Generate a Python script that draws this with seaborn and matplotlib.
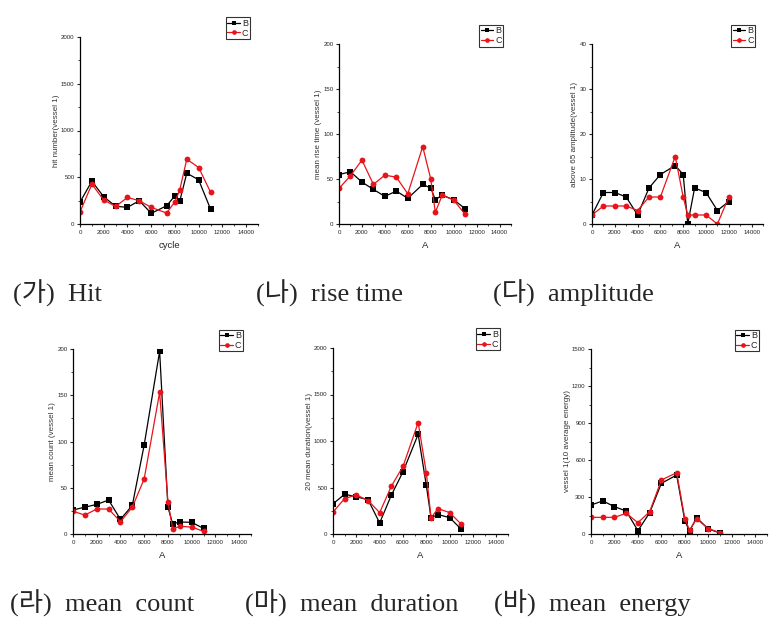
import numpy as np
import pandas as pd
import matplotlib
matplotlib.use("Agg")
import matplotlib.pyplot as plt
import seaborn as sns
from matplotlib.ticker import MultipleLocator

# ---------------- data ----------------
x_common = [0, 1000, 2000, 3000, 4000, 5000, 6000, 7300, 8000, 8400, 9000, 10000, 11000]
x_amp = [0, 1000, 2000, 3000, 4000, 5000, 6000, 7300, 8000, 8400, 9000, 10000, 11000, 12000]

hit_B = [234, 458, 291, 190, 178, 249, 114, 195, 302, 242, 544, 472, 160]
hit_C = [128, 426, 256, 188, 284, 249, 178, 117, 238, 362, 693, 604, 341]

rise_B = [55, 58, 46.6, 38.4, 30.7, 36.6, 28.5, 44, 40, 27, 32, 27, 17]
rise_C = [39.5, 53.6, 71, 44, 54.3, 52, 33.6, 86, 50, 13, 32, 26.6, 10.7]

amp_B = [2, 7, 7, 6, 2, 8, 11, 13, 11, 0, 8, 7, 3, 5]
amp_C = [2, 4, 4, 4, 3, 6, 6, 15, 6, 2, 2, 2, 0, 6]

count_B = [26, 29, 32, 36.7, 15.8, 31, 96.4, 197.5, 29, 11, 13, 12.6, 6]
count_C = [24.5, 20.5, 27, 27, 13.3, 29, 59.7, 153, 35, 5.4, 8.3, 7.5, 2.9]

dur_B = [324, 428, 399, 370, 119, 417, 669, 1072, 522, 176, 209, 176, 50]
dur_C = [237, 381, 421, 360, 230, 514, 727, 1198, 658, 173, 273, 230, 104]

energy_B = [235, 268, 222, 186, 27, 173, 411, 478, 105, 24, 132, 41, 8]
energy_C = [135, 135, 135, 168, 92, 181, 438, 497, 124, 30, 124, 43, 11]

series_names = ["B", "C"]
xlabels = ["cycle", "A", "A", "A", "A", "A"]
ylabels = ["hit number(vessel 1)", "mean rise time (vessel 1)", "above 65 amplitude(vessel 1)",
           "mean count (vessel 1)", "20 mean duration(vessel 1)", "vessel 1(10 average energy)"]
captions = ["(가)  Hit", "(나)  rise time", "(다)  amplitude",
            "(라)  mean  count", "(마)  mean  duration", "(바)  mean  energy"]
ymax = [2000, 200, 40, 200, 2000, 1500]
ymajor = [500, 50, 10, 50, 500, 300]

panels = [
    (x_common, hit_B, hit_C),
    (x_common, rise_B, rise_C),
    (x_amp, amp_B, amp_C),
    (x_common, count_B, count_C),
    (x_common, dur_B, dur_C),
    (x_common, energy_B, energy_C),
]

# axes rectangles in pixels: left, right, top, bottom
rects_px = [
    (80, 258, 37, 224),
    (339, 511, 44, 224),
    (592, 763, 44, 224),
    (73, 251, 349, 534),
    (333, 508, 348, 534),
    (591, 767, 349, 534),
]
caption_px = [(13, 302), (256, 302), (493, 302), (10, 612), (245, 612), (494, 612)]

W, H = 784, 620
sns.set_style("white")
plt.rcParams["font.family"] = ["Liberation Sans", "DejaVu Sans"]

fig = plt.figure(figsize=(W / 100, H / 100), dpi=100)

for i, (xs, yb, yc) in enumerate(panels):
    l, r, t, b = rects_px[i]
    ax = fig.add_axes([l / W, 1 - b / H, (r - l) / W, (b - t) / H])
    df = pd.DataFrame({
        "x": list(xs) + list(xs),
        "y": list(yb) + list(yc),
        "s": ["B"] * len(xs) + ["C"] * len(xs),
    })
    sns.lineplot(data=df, x="x", y="y", hue="s", style="s",
                 palette={"B": "black", "C": "#e8141b"},
                 markers={"B": "s", "C": "o"}, dashes=False,
                 markersize=4.2, markeredgewidth=0, linewidth=0.9,
                 sort=False, ax=ax)
    ax.set_xlim(0, 15000)
    ax.set_ylim(0, ymax[i])
    ax.xaxis.set_major_locator(MultipleLocator(2000))
    ax.xaxis.set_minor_locator(MultipleLocator(1000))
    ax.yaxis.set_major_locator(MultipleLocator(ymajor[i]))
    ax.yaxis.set_minor_locator(MultipleLocator(ymajor[i] / 2))
    ax.set_xticks([v for v in range(0, 14001, 2000)])
    ax.tick_params(axis="both", which="major", direction="out", length=2.5, width=0.8,
                   labelsize=4.4, pad=1.5, bottom=True, left=True)
    ax.tick_params(axis="both", which="minor", direction="out", length=1.5, width=0.6,
                   bottom=True, left=True)
    for side in ["top", "right"]:
        ax.spines[side].set_visible(False)
    for side in ["left", "bottom"]:
        ax.spines[side].set_linewidth(0.9)
        ax.spines[side].set_color("black")
    ax.set_xlabel(xlabels[i], fontsize=6.8, labelpad=4.5)
    ax.set_ylabel(ylabels[i], fontsize=5.8, labelpad=1.0, color="#333333")
    leg = ax.legend(loc="upper right", bbox_to_anchor=(0.953, 1.105), fontsize=6.5,
                    frameon=True, fancybox=False, handlelength=1.4, handletextpad=0.2,
                    borderpad=0.15, labelspacing=0.1, borderaxespad=0, markerscale=0.8)
    leg.get_frame().set_edgecolor("black")
    leg.get_frame().set_linewidth(0.8)
    cx, cy = caption_px[i]
    fig.text(cx / W, 1 - cy / H, captions[i], fontsize=19,
             family=["Liberation Serif", "Noto Sans CJK KR"], va="baseline", ha="left")

fig.savefig("out.png", dpi=100)
